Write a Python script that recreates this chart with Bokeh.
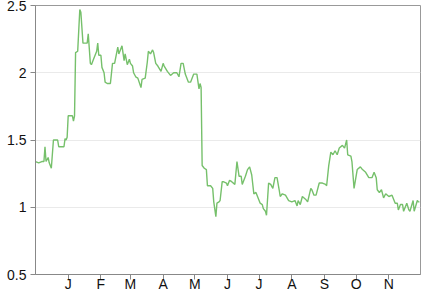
from datetime import datetime
import pandas as pd
from bokeh.plotting import figure
from bokeh.models import (ColumnDataSource, Range1d, FixedTicker, NumeralTickFormatter)
from bokeh.embed import file_html
from bokeh.resources import INLINE

# ---- data ----
DATES = [
    "2016-12-01", "2016-12-04", "2016-12-07", "2016-12-09", "2016-12-10", "2016-12-11",
    "2016-12-13", "2016-12-14", "2016-12-16", "2016-12-18", "2016-12-22", "2016-12-23",
    "2016-12-28", "2016-12-29", "2016-12-30", "2016-12-31", "2017-01-01", "2017-01-05",
    "2017-01-06", "2017-01-07", "2017-01-08", "2017-01-10", "2017-01-12", "2017-01-13",
    "2017-01-15", "2017-01-19", "2017-01-20", "2017-01-21", "2017-01-22", "2017-01-23",
    "2017-01-25", "2017-01-28", "2017-01-29", "2017-01-30", "2017-02-01", "2017-02-02",
    "2017-02-04", "2017-02-05", "2017-02-07", "2017-02-10", "2017-02-12", "2017-02-14",
    "2017-02-17", "2017-02-18", "2017-02-20", "2017-02-21", "2017-02-23", "2017-02-24",
    "2017-02-26", "2017-02-28", "2017-03-01", "2017-03-03", "2017-03-04", "2017-03-06",
    "2017-03-08", "2017-03-11", "2017-03-12", "2017-03-15", "2017-03-17", "2017-03-18",
    "2017-03-20", "2017-03-22", "2017-03-23", "2017-03-25", "2017-03-27", "2017-03-30",
    "2017-04-01", "2017-04-02", "2017-04-05", "2017-04-08", "2017-04-11", "2017-04-14",
    "2017-04-16", "2017-04-18", "2017-04-20", "2017-04-22", "2017-04-25", "2017-04-27",
    "2017-04-30", "2017-05-03", "2017-05-05", "2017-05-06", "2017-05-07", "2017-05-08",
    "2017-05-10", "2017-05-12", "2017-05-13", "2017-05-16", "2017-05-18", "2017-05-19",
    "2017-05-21", "2017-05-22", "2017-05-24", "2017-05-25", "2017-05-27", "2017-05-28",
    "2017-05-31", "2017-06-01", "2017-06-03", "2017-06-05", "2017-06-08", "2017-06-10",
    "2017-06-12", "2017-06-14", "2017-06-15", "2017-06-18", "2017-06-20", "2017-06-22",
    "2017-06-24", "2017-06-26", "2017-06-28", "2017-07-02", "2017-07-04", "2017-07-05",
    "2017-07-07", "2017-07-08", "2017-07-10", "2017-07-12", "2017-07-14", "2017-07-16",
    "2017-07-18", "2017-07-20", "2017-07-21", "2017-07-23", "2017-07-26", "2017-07-29",
    "2017-08-01", "2017-08-04", "2017-08-06", "2017-08-07", "2017-08-09", "2017-08-11",
    "2017-08-14", "2017-08-16", "2017-08-19", "2017-08-20", "2017-08-22", "2017-08-24",
    "2017-08-27", "2017-08-30", "2017-09-02", "2017-09-03", "2017-09-05", "2017-09-07",
    "2017-09-09", "2017-09-11", "2017-09-13", "2017-09-15", "2017-09-18", "2017-09-20",
    "2017-09-22", "2017-09-23", "2017-09-26", "2017-09-27", "2017-09-29", "2017-10-02",
    "2017-10-05", "2017-10-07", "2017-10-10", "2017-10-13", "2017-10-16", "2017-10-18",
    "2017-10-20", "2017-10-21", "2017-10-23", "2017-10-25", "2017-10-27", "2017-10-29",
    "2017-11-01", "2017-11-04", "2017-11-07", "2017-11-09", "2017-11-10", "2017-11-12",
    "2017-11-14", "2017-11-15", "2017-11-18", "2017-11-20", "2017-11-21", "2017-11-24",
    "2017-11-25", "2017-11-28", "2017-11-29", "2017-11-30",
]
VALUES = [
    1.34, 1.33, 1.34, 1.34, 1.45, 1.34,
    1.37, 1.33, 1.29, 1.50, 1.50, 1.45,
    1.45, 1.51, 1.50, 1.52, 1.68, 1.68,
    1.64, 1.68, 2.15, 2.16, 2.47, 2.45,
    2.22, 2.22, 2.29, 2.18, 2.07, 2.06,
    2.10, 2.16, 2.22, 2.13, 2.13, 2.04,
    2.00, 1.93, 1.92, 1.92, 2.07, 2.07,
    2.19, 2.14, 2.18, 2.20, 2.09, 2.14,
    2.06, 2.10, 2.07, 2.05, 2.00, 1.97,
    1.96, 1.89, 1.95, 1.96, 2.08, 2.16,
    2.14, 2.17, 2.15, 2.07, 2.05, 2.01,
    2.07, 2.05, 2.01, 1.98, 2.00, 2.00,
    1.97, 2.07, 2.07, 1.99, 1.93, 1.93,
    1.99, 1.99, 1.88, 1.92, 1.89, 1.31,
    1.29, 1.28, 1.16, 1.16, 1.14, 1.04,
    0.93, 1.03, 1.04, 1.05, 1.19, 1.19,
    1.18, 1.16, 1.20, 1.19, 1.17, 1.34,
    1.23, 1.23, 1.17, 1.23, 1.28, 1.30,
    1.24, 1.10, 1.11, 1.03, 1.02, 0.99,
    0.97, 0.94, 1.18, 1.17, 1.14, 1.22,
    1.22, 1.13, 1.08, 1.10, 1.09, 1.05,
    1.04, 1.05, 1.01, 1.05, 1.02, 1.08,
    1.06, 1.04, 1.14, 1.13, 1.09, 1.09,
    1.18, 1.18, 1.17, 1.16, 1.31, 1.41,
    1.39, 1.42, 1.39, 1.44, 1.46, 1.44,
    1.50, 1.39, 1.38, 1.34, 1.14, 1.28,
    1.30, 1.28, 1.26, 1.22, 1.22, 1.26,
    1.22, 1.13, 1.11, 1.13, 1.07, 1.10,
    1.08, 1.09, 1.03, 1.03, 0.98, 1.02,
    1.02, 0.97, 1.03, 0.98, 0.97, 1.05,
    0.97, 1.05, 1.04, 1.04,
]
MONTH_TICKS = ["2017-01-01", "2017-02-01", "2017-03-01", "2017-04-01", "2017-05-01",
               "2017-06-01", "2017-07-01", "2017-08-01", "2017-09-01", "2017-10-01",
               "2017-11-01"]
MONTH_LABELS = ["J", "F", "M", "A", "M", "J", "J", "A", "S", "O", "N"]
Y_TICKS = [0.5, 1, 1.5, 2, 2.5]
X_START, X_END = "2016-12-01", "2017-12-01"
Y_START, Y_END = 0.5, 2.5

FONT = "Liberation Sans"
LINE_COLOR = "#76c06b"
AXIS_COLOR = "#888888"

source = ColumnDataSource(dict(date=pd.to_datetime(DATES), value=VALUES))

p = figure(width=433, height=294, x_axis_type="datetime",
           output_backend="svg", toolbar_location=None,
           x_range=Range1d(pd.Timestamp(X_START), pd.Timestamp(X_END)),
           y_range=Range1d(Y_START, Y_END),
           min_border_left=35, min_border_right=13, min_border_top=5, min_border_bottom=0)

p.line("date", "value", source=source, line_color=LINE_COLOR, line_width=1.4)

tick_ms = [pd.Timestamp(d).value // 10**6 for d in MONTH_TICKS]
label_map = {ms: lab for ms, lab in zip(tick_ms, MONTH_LABELS)}
p.xaxis.ticker = FixedTicker(ticks=tick_ms)
p.xaxis.major_label_overrides = label_map
p.yaxis.ticker = FixedTicker(ticks=Y_TICKS)
p.yaxis.formatter = NumeralTickFormatter(format="0.[0]")

for ax in (p.xaxis, p.yaxis):
    ax.axis_line_color = AXIS_COLOR
    ax.major_tick_line_color = AXIS_COLOR
    ax.minor_tick_line_color = None
    ax.major_tick_in = 0
    ax.major_tick_out = 5
    ax.major_label_text_font = FONT
    ax.major_label_text_font_size = "14px"
    ax.major_label_text_color = "#111111"
p.xaxis.major_label_standoff = -4
p.yaxis.major_label_standoff = 4

p.xgrid.grid_line_color = None
p.ygrid.grid_line_color = "#eaeaea"
p.outline_line_color = "#999999"
p.background_fill_color = "white"
p.border_fill_color = "white"

open("out.html", "w").write(file_html(p, INLINE))
